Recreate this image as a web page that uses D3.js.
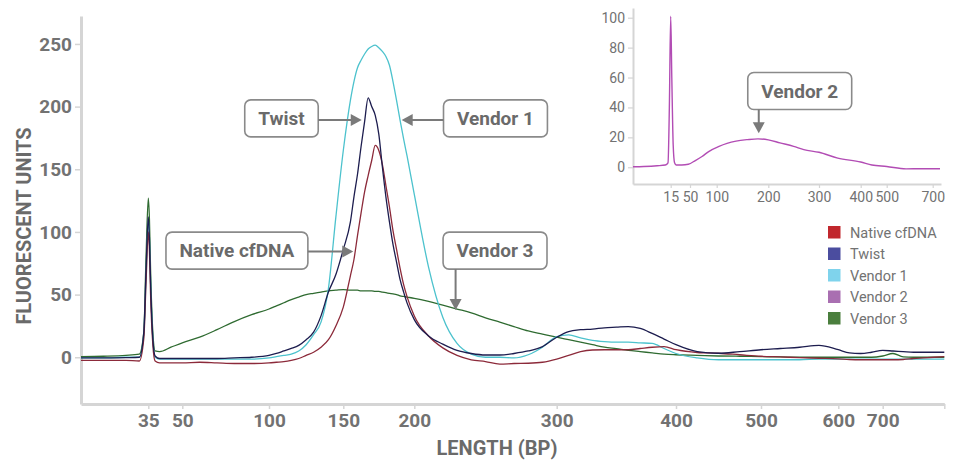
<!DOCTYPE html>
<html>
<head>
<meta charset="utf-8">
<script src="https://cdn.jsdelivr.net/npm/d3@7/dist/d3.min.js"></script>
<style>
  body { margin: 0; background: #fff; }
  svg { display: block; font-family: Roboto, "DejaVu Sans", sans-serif; }
</style>
</head>
<body>
<div id="chart"></div>
<script>
// Fragment sizes (bp) shared by the main traces
const sizes = [20, 25, 30, 33, 34, 34.5, 35, 35.5, 36, 37, 38, 40, 45, 50,
    60, 70, 80, 90, 100, 105, 110, 115, 120, 125, 130, 135, 140, 145, 150,
    155, 157.5, 160, 162.5, 165, 167.5, 170, 172.5, 175, 177.5, 180, 182.5, 185, 187.5, 190, 192.5, 195,
    200, 210, 220, 230, 240, 250, 260, 270, 280, 290, 300,
    310, 320, 330, 340, 350, 360, 370, 380, 390, 400,
    425, 450, 475, 500, 525, 550, 575, 600, 625, 650, 675, 700,
    750, 800, 850, 900, 950, 1000];

const nativeCfDNA = [-2.5, -2.5, -2.5, -3, 15, 60, 100, 85, 50, 10, -3, -4.5, -4.5, -4.5,
    -4, -4.5, -5, -5, -4.5, -4, -3.5, -2.5, -1, 1.5, 4, 8, 14, 25, 40,
    65, 78, 97, 115, 132, 145, 157, 169, 165, 154, 137, 120, 101, 86, 71, 58, 48,
    33, 17, 7.5, 1.5, -2, -3.5, -5.5, -5, -4.8, -4, -1.5,
    1.5, 4.5, 5.8, 6, 6, 6, 7, 8, 8.5, 6,
    3.8, 3.2, 2, 0.8, 0.3, -0.3, -0.8, -1.3, -1.8, -2, -2, -2,
    -2, -1.8, -1, -0.5, 0, 0.5];

const twist = [-0.5, -0.5, -0.3, 0, 20, 70, 112, 95, 60, 15, 1, -1, -1, -1,
    -1, -1, -0.5, 0, 1.5, 3, 5, 7, 9.5, 14, 20, 33, 52, 66, 86,
    108, 128, 146, 168, 188, 207, 200, 193, 178, 152, 128, 108, 90, 76, 62, 52, 43,
    30, 17, 10.5, 5.5, 3, 1.8, 1.8, 3, 5, 8.5, 16,
    20.5, 22, 22.5, 23.5, 24, 24.5, 23, 19, 14.5, 10,
    4.5, 3.2, 4.5, 6, 7, 8, 9.5, 6, 3.5, 3, 4, 5.5,
    5, 4.5, 4, 4, 4, 4];

const vendor1 = [-0.5, -0.5, 0, 0, 18, 65, 110, 95, 60, 15, 0, -1.5, -1.5, -1.5,
    -1.5, -1.5, -1.5, -1.5, -0.5, 0.5, 1.5, 2.5, 5, 10, 18, 28, 55, 112, 165,
    205, 220, 231, 237, 242, 246, 248, 249, 247, 244, 240, 233, 220, 205, 189, 174, 160,
    130, 72, 32, 11, 2.5, 0, 0, -0.5, 2, 8, 16.5,
    17.8, 15.5, 13.5, 12.5, 12, 12, 11.5, 11, 7, 3,
    -0.5, -2, -2, -2, -2, -2, -1.5, -1.5, -1.5, -1.5, -1.5, -1.5,
    -1.5, -1.5, -1.5, -1.5, -1.5, -1.5];

const vendor3 = [0.5, 0.8, 1.5, 2.5, 20, 80, 127, 110, 70, 20, 5, 4.5, 8, 11.5,
    16, 22, 28.5, 34, 38.5, 41, 43.5, 46, 48, 50, 51, 52, 53, 53.5, 54,
    53.5, 53.5, 53.5, 53, 53, 53, 53, 52.5, 52.5, 52, 51.5, 51, 50.5, 50, 49, 48.5, 48,
    47, 44.5, 41.5, 38.5, 35.5, 31.5, 28, 24.5, 21, 18.5, 16,
    14, 12, 10, 8, 6.8, 5.5, 4.5, 3.5, 2.5, 2,
    1.5, 1, 0.8, 0.5, 0.3, 0, 0, 0, 0, 0, 0, 1,
    3, 0.3, 0, 0, 0, 0];

// Inset trace (Vendor 2)
const insetSizes = [1, 5, 10, 13, 14, 14.5, 15, 17, 19.5, 22, 25, 35, 47, 60, 72.5, 85,
    104.5, 120, 137.5, 160, 180, 200, 223, 250, 270, 300, 345, 400, 443, 500, 584, 650, 744];
const vendor2 = [0.3, 0.5, 1, 1.5, 3, 40, 101, 60, 15, 3, 1.5, 1.5, 2, 4.5, 7.2, 10.5,
    14, 16, 17.5, 18.5, 19, 18.3, 16.3, 14, 11.8, 10, 6.1, 3.5, 1.5, 0.5, -1.1, -1, -1];

// Ladder: sizes vs. position along the axis (electropherogram is not linear in bp)
const ladderBp = [20, 35, 50, 100, 150, 200, 300, 400, 500, 600, 700, 1000];
const ladderPos = [0, 67.3, 101.3, 188, 262.3, 333.3, 475.7, 595, 680, 757.3, 801.7, 863.3];
const xTicks = [35, 50, 100, 150, 200, 300, 400, 500, 600, 700, 1000];
const yTicks = [0, 50, 100, 150, 200, 250];

const insetLadderBp = [1, 15, 50, 100, 200, 300, 400, 500, 700, 750];
const insetLadderPos = [0, 37.7, 57, 83.7, 135.3, 186, 227.7, 253.7, 299.7, 308];
const insetXTicks = [15, 50, 100, 200, 300, 400, 500, 700];
const insetYTicks = [0, 20, 40, 60, 80, 100];

const seriesNames = ["Native cfDNA", "Twist", "Vendor 1", "Vendor 2", "Vendor 3"];
const legendColors = ["#c1272d", "#4b4d9f", "#7fd3ec", "#a96fb1", "#4a7e3d"];
const lineColors = {
    "Native cfDNA": "#8c2a3a",
    "Twist": "#1d1d4f",
    "Vendor 1": "#4cc2cd",
    "Vendor 2": "#b24cb4",
    "Vendor 3": "#2f6b31"
};

// Callouts: box centre and arrow tip in data units
const callouts = [
    {label: "Twist", bx: 108.4, by: 190.6, tx: 163, ty: 189.4, dir: "right"},
    {label: "Vendor 1", bx: 257, by: 190.6, tx: 191.1, ty: 189.4, dir: "left"},
    {label: "Native cfDNA", bx: 81.5, by: 85.1, tx: 157, ty: 84.3, dir: "right"},
    {label: "Vendor 3", bx: 256.7, by: 85.1, tx: 229, ty: 37.7, dir: "down"}
];
const insetCallout = {label: "Vendor 2", bx: 262, by: 51, tx: 181.5, ty: 22.7, dir: "down"};

const W = 954, H = 464;
const main = {left: 81, top: 16, width: 863.3, height: 388};
const inset = {left: 633, top: 8, width: 308, height: 176};

const svg = d3.select("#chart").append("svg")
    .attr("width", W)
    .attr("height", H);

const axisGrey = "#d5d5d5";
const textGrey = "#727272";

function drawCallout(g, c, x, y) {
    const bh = 37;
    const grp = g.append("g");
    const txt = grp.append("text")
        .attr("x", x(c.bx))
        .attr("y", y(c.by))
        .attr("dy", "0.36em")
        .attr("text-anchor", "middle")
        .style("font-size", "19px")
        .style("font-weight", "bold")
        .style("fill", "#6a6a6a")
        .text(c.label);
    const bw = txt.node().getComputedTextLength() + 27;
    const bx0 = x(c.bx) - bw / 2, by0 = y(c.by) - bh / 2;
    grp.insert("rect", "text")
        .attr("x", bx0).attr("y", by0)
        .attr("width", bw).attr("height", bh)
        .attr("rx", 6)
        .style("fill", "#fff")
        .style("stroke", "#8a8a8a")
        .style("stroke-width", 1.6);

    // arrow from the box edge to the tip
    const tx = x(c.tx), ty = y(c.ty);
    let sx, sy, head;
    if (c.dir === "right") {
        sx = bx0 + bw; sy = ty;
        head = [[tx, ty], [tx - 11, ty - 6], [tx - 11, ty + 6]];
    } else if (c.dir === "left") {
        sx = bx0; sy = ty;
        head = [[tx, ty], [tx + 11, ty - 6], [tx + 11, ty + 6]];
    } else {
        sx = tx; sy = by0 + bh;
        head = [[tx, ty], [tx - 6, ty - 11], [tx + 6, ty - 11]];
    }
    const ex = c.dir === "right" ? tx - 10 : c.dir === "left" ? tx + 10 : tx;
    const ey = c.dir === "down" ? ty - 10 : ty;
    grp.append("line")
        .attr("x1", sx).attr("y1", sy)
        .attr("x2", ex).attr("y2", ey)
        .style("stroke", "#7a7a7a")
        .style("stroke-width", 2);
    grp.append("path")
        .attr("d", "M" + head.join("L") + "Z")
        .style("fill", "#7a7a7a");
}

function drawMain() {
    const g = svg.append("g")
        .attr("transform", `translate(${main.left},${main.top})`);

    const x = d3.scaleLinear().domain(ladderBp).range(ladderPos);
    const y = d3.scaleLinear().domain([-37.3, 272.3]).range([main.height, 0]);

    // Axes
    const xAxis = g.append("g")
        .attr("transform", `translate(0,${main.height})`)
        .call(d3.axisBottom(x).tickValues(xTicks).tickSize(5).tickPadding(5).tickSizeOuter(0)
            .tickFormat(d => d === 1000 ? "" : d));
    const yAxis = g.append("g")
        .call(d3.axisLeft(y).tickValues(yTicks).tickSize(6).tickPadding(3).tickSizeOuter(0));

    [xAxis, yAxis].forEach(a => {
        a.select(".domain").style("stroke", axisGrey).style("stroke-width", 3);
        a.selectAll(".tick line").style("stroke", axisGrey).style("stroke-width", 1.5);
        a.selectAll(".tick text")
            .style("font-size", "19px")
            .style("font-weight", "bold")
            .style("fill", textGrey)
            .style("font-family", "Roboto, sans-serif");
    });

    // Traces
    const line = d3.line()
        .x(d => x(d[0]))
        .y(d => y(d[1]))
        .curve(d3.curveMonotoneX);

    const traces = [
        ["Vendor 3", vendor3],
        ["Vendor 1", vendor1],
        ["Native cfDNA", nativeCfDNA],
        ["Twist", twist]
    ];
    traces.forEach(([name, vals]) => {
        g.append("path")
            .datum(sizes.map((s, i) => [s, vals[i]]))
            .attr("d", line)
            .style("fill", "none")
            .style("stroke", lineColors[name])
            .style("stroke-width", 1.3);
    });

    callouts.forEach(c => drawCallout(g, c, x, y));

    // Axis titles
    svg.append("text")
        .attr("transform", "rotate(-90)")
        .attr("x", -(main.top + 210))
        .attr("y", 31)
        .attr("text-anchor", "middle")
        .style("font-size", "20px")
        .style("font-weight", "bold")
        .style("fill", "#6a6a6a")
        .text("FLUORESCENT UNITS");

    svg.append("text")
        .attr("x", 497)
        .attr("y", 455)
        .attr("text-anchor", "middle")
        .style("font-size", "20px")
        .style("font-weight", "bold")
        .style("fill", "#6a6a6a")
        .text("LENGTH (BP)");
}

function drawInset() {
    const g = svg.append("g")
        .attr("transform", `translate(${inset.left},${inset.top})`);

    const x = d3.scaleLinear().domain(insetLadderBp).range(insetLadderPos);
    const y = d3.scaleLinear().domain([-11.2, 106.5]).range([inset.height, 0]);

    const xAxis = g.append("g")
        .attr("transform", `translate(0,${inset.height})`)
        .call(d3.axisBottom(x).tickValues(insetXTicks).tickSize(4).tickPadding(4).tickSizeOuter(0));
    const yAxis = g.append("g")
        .call(d3.axisLeft(y).tickValues(insetYTicks).tickSize(5).tickPadding(3).tickSizeOuter(0));

    [xAxis, yAxis].forEach(a => {
        a.select(".domain").style("stroke", axisGrey).style("stroke-width", 2);
        a.selectAll(".tick line").style("stroke", axisGrey).style("stroke-width", 1.2);
        a.selectAll(".tick text")
            .style("font-size", "14px")
            .style("fill", textGrey)
            .style("font-family", "Roboto, sans-serif");
    });

    const line = d3.line()
        .x(d => x(d[0]))
        .y(d => y(d[1]))
        .curve(d3.curveMonotoneX);

    g.append("path")
        .datum(insetSizes.map((s, i) => [s, vendor2[i]]))
        .attr("d", line)
        .style("fill", "none")
        .style("stroke", lineColors["Vendor 2"])
        .style("stroke-width", 1.4);

    drawCallout(g, insetCallout, x, y);
}

function drawLegend() {
    const lg = svg.append("g").attr("transform", "translate(828,226)");
    seriesNames.forEach((name, i) => {
        const row = lg.append("g").attr("transform", `translate(0,${i * 21.5})`);
        row.append("rect")
            .attr("width", 12.5).attr("height", 12.5)
            .style("fill", legendColors[i]);
        row.append("text")
            .attr("x", 22).attr("y", 6.5)
            .attr("dy", "0.35em")
            .style("font-size", "14.5px")
            .style("fill", textGrey)
            .text(name);
    });
}

drawMain();
drawInset();
drawLegend();
</script>
</body>
</html>
